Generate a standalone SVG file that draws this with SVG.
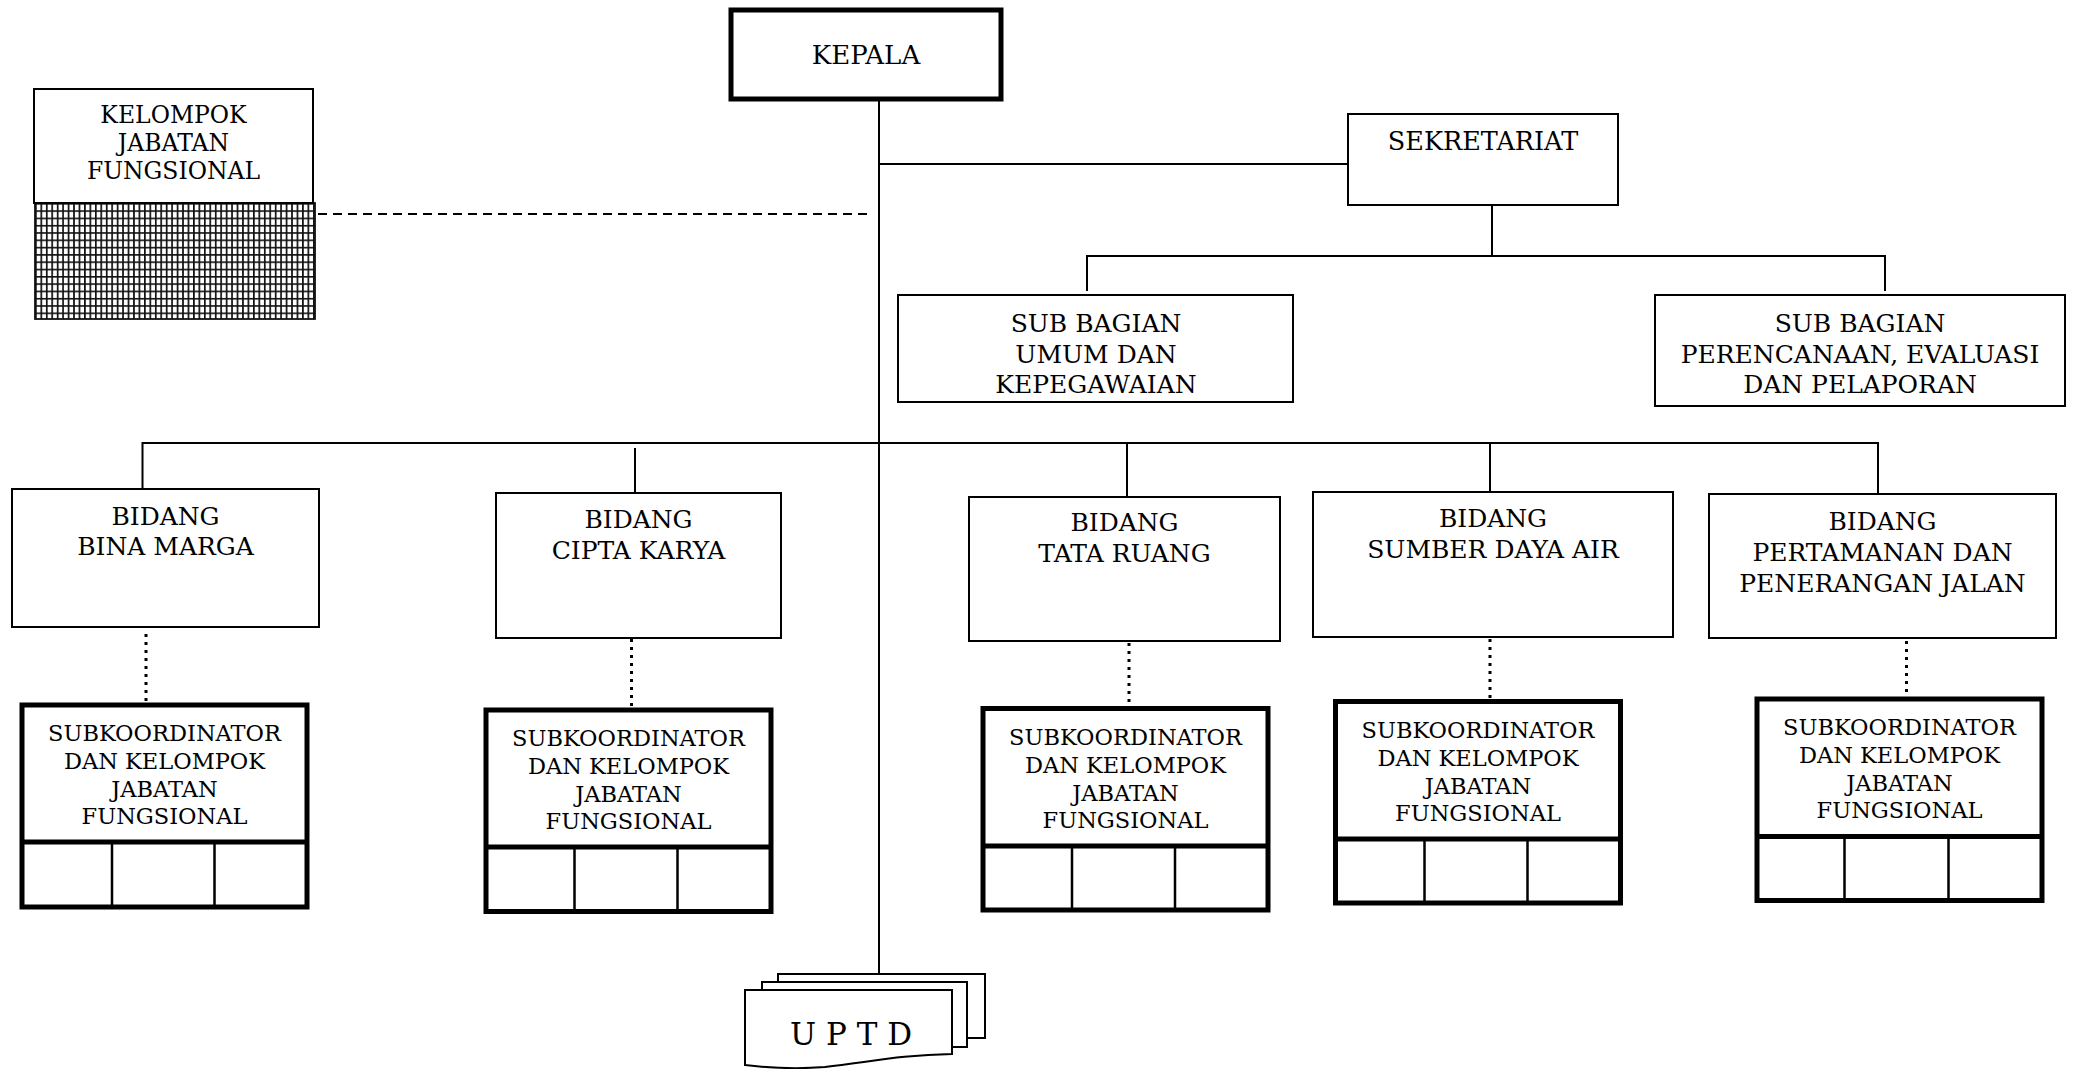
<svg xmlns="http://www.w3.org/2000/svg" width="2075" height="1069" viewBox="0 0 2075 1069">
  <defs>
    <style>
      .box { fill: #fff; stroke: #000; stroke-width: 2; }
      .heavy { fill: #fff; stroke: #000; stroke-width: 5; }
      .ln { fill: none; stroke: #000; stroke-width: 2; }
      .hv { fill: none; stroke: #000; stroke-width: 5; }
      .cell { fill: none; stroke: #000; stroke-width: 2.5; }
      .dash { fill: none; stroke: #000; stroke-width: 2; stroke-dasharray: 9 6; }
      .dots { fill: none; stroke: #000; stroke-width: 3; stroke-dasharray: 3 5; }
      text { font-family: "DejaVu Serif", "Liberation Serif", serif; text-anchor: middle; fill: #000; }
      .t-head { font-size: 26px; }
      .t-main { font-size: 25.5px; }
      .t-bid { font-size: 25px; }
      .t-sub { font-size: 22.5px; }
      .t-jf { font-size: 23.5px; }
      .t-uptd { font-size: 31px; }
    </style>
    <pattern id="mesh" patternUnits="userSpaceOnUse" x="35" y="203" width="5.45" height="7.3">
      <rect width="5.45" height="7.3" fill="#fff"/>
      <path d="M0.8,0 V7.3 M0,0.8 H5.45" stroke="#111" stroke-width="1.8" fill="none"/>
    </pattern>
  </defs>

  <rect width="2075" height="1069" fill="#fff"/>

  <!-- connectors -->
  <g id="connectors">
    <!-- trunk from KEPALA down to UPTD -->
    <path class="ln" d="M879,101 V974"/>
    <!-- KEPALA to SEKRETARIAT -->
    <path class="ln" d="M879,164 H1349"/>
    <!-- SEKRETARIAT to sub bagian -->
    <path class="ln" d="M1492,206 V256 M1087,256 H1885 M1087,255 V291 M1885,255 V291"/>
    <!-- bidang bus -->
    <path class="ln" d="M142,443 H1878"/>
    <path class="ln" d="M142.5,442 V489 M635,448 V493 M1127,443 V497 M1490,443 V492 M1878,442 V494"/>
    <!-- functional group link -->
    <path class="dash" d="M318,214 H869"/>
    <!-- bidang to subkoordinator (dotted) -->
    <path class="dots" d="M146,634 V703 M631.5,639 V708 M1129,643 V706 M1490,639 V699 M1906.5,641 V697"/>
  </g>

  <!-- KEPALA -->
  <g id="kepala">
    <rect class="heavy" x="731" y="10" width="270" height="89"/>
    <text class="t-head" x="866" y="64">KEPALA</text>
  </g>

  <!-- Kelompok Jabatan Fungsional -->
  <g id="kelompok-jf">
    <rect x="35" y="203" width="280" height="116" fill="url(#mesh)" stroke="#111" stroke-width="1.8"/>
    <rect class="box" x="34" y="89" width="279" height="114"/>
    <text class="t-jf" x="173.5" y="123">KELOMPOK</text>
    <text class="t-jf" x="173.5" y="151">JABATAN</text>
    <text class="t-jf" x="173.5" y="179">FUNGSIONAL</text>
  </g>

  <!-- SEKRETARIAT -->
  <g id="sekretariat">
    <rect class="box" x="1348" y="114" width="270" height="91"/>
    <text class="t-main" x="1483" y="150">SEKRETARIAT</text>
  </g>

  <g id="subbag-umum">
    <rect class="box" x="898" y="295" width="395" height="107"/>
    <text class="t-bid" x="1096" y="332">SUB BAGIAN</text>
    <text class="t-bid" x="1096" y="363">UMUM DAN</text>
    <text class="t-bid" x="1096" y="393">KEPEGAWAIAN</text>
  </g>

  <g id="subbag-perencanaan">
    <rect class="box" x="1655" y="295" width="410" height="111"/>
    <text class="t-bid" x="1860" y="332">SUB BAGIAN</text>
    <text class="t-bid" x="1860" y="363">PERENCANAAN, EVALUASI</text>
    <text class="t-bid" x="1860" y="393">DAN PELAPORAN</text>
  </g>

  <!-- Bidang -->
  <g id="bidang-bina-marga">
    <rect class="box" x="12" y="489" width="307" height="138"/>
    <text class="t-bid" x="165.5" y="525">BIDANG</text>
    <text class="t-bid" x="165.5" y="555">BINA MARGA</text>
  </g>
  <g id="bidang-cipta-karya">
    <rect class="box" x="496" y="493" width="285" height="145"/>
    <text class="t-bid" x="638.5" y="528">BIDANG</text>
    <text class="t-bid" x="638.5" y="559">CIPTA KARYA</text>
  </g>
  <g id="bidang-tata-ruang">
    <rect class="box" x="969" y="497" width="311" height="144"/>
    <text class="t-bid" x="1124.5" y="531">BIDANG</text>
    <text class="t-bid" x="1124.5" y="562">TATA RUANG</text>
  </g>
  <g id="bidang-sda">
    <rect class="box" x="1313" y="492" width="360" height="145"/>
    <text class="t-bid" x="1493" y="527">BIDANG</text>
    <text class="t-bid" x="1493" y="558">SUMBER DAYA AIR</text>
  </g>
  <g id="bidang-pertamanan">
    <rect class="box" x="1709" y="494" width="347" height="144"/>
    <text class="t-bid" x="1882.5" y="530">BIDANG</text>
    <text class="t-bid" x="1882.5" y="561">PERTAMANAN DAN</text>
    <text class="t-bid" x="1882.5" y="592">PENERANGAN JALAN</text>
  </g>

  <!-- Subkoordinator dan kelompok jabatan fungsional -->
  <g id="subkoord-1">
    <rect class="heavy" x="22" y="705" width="285" height="202"/>
    <path class="hv" d="M22,842 H307"/>
    <path class="cell" d="M112,842 V907 M214.5,842 V907"/>
    <text class="t-sub" x="164.5" y="741">SUBKOORDINATOR</text>
    <text class="t-sub" x="164.5" y="769">DAN KELOMPOK</text>
    <text class="t-sub" x="164.5" y="797">JABATAN</text>
    <text class="t-sub" x="164.5" y="824">FUNGSIONAL</text>
  </g>
  <g id="subkoord-2">
    <rect class="heavy" x="486" y="710" width="285" height="201.5"/>
    <path class="hv" d="M486,847 H771"/>
    <path class="cell" d="M574.5,847 V911.5 M677.5,847 V911.5"/>
    <text class="t-sub" x="628.5" y="746">SUBKOORDINATOR</text>
    <text class="t-sub" x="628.5" y="774">DAN KELOMPOK</text>
    <text class="t-sub" x="628.5" y="802">JABATAN</text>
    <text class="t-sub" x="628.5" y="829">FUNGSIONAL</text>
  </g>
  <g id="subkoord-3">
    <rect class="heavy" x="983" y="708.5" width="285" height="201.5"/>
    <path class="hv" d="M983,846 H1268"/>
    <path class="cell" d="M1072,846 V910 M1175,846 V910"/>
    <text class="t-sub" x="1125.5" y="744.5">SUBKOORDINATOR</text>
    <text class="t-sub" x="1125.5" y="772.5">DAN KELOMPOK</text>
    <text class="t-sub" x="1125.5" y="800.5">JABATAN</text>
    <text class="t-sub" x="1125.5" y="827.5">FUNGSIONAL</text>
  </g>
  <g id="subkoord-4">
    <rect class="heavy" x="1335.5" y="701.5" width="285" height="201.5"/>
    <path class="hv" d="M1335.5,839 H1620.5"/>
    <path class="cell" d="M1424.5,839 V903 M1527.5,839 V903"/>
    <text class="t-sub" x="1478" y="737.5">SUBKOORDINATOR</text>
    <text class="t-sub" x="1478" y="765.5">DAN KELOMPOK</text>
    <text class="t-sub" x="1478" y="793.5">JABATAN</text>
    <text class="t-sub" x="1478" y="820.5">FUNGSIONAL</text>
  </g>
  <g id="subkoord-5">
    <rect class="heavy" x="1757" y="699" width="285" height="201.5"/>
    <path class="hv" d="M1757,836.5 H2042"/>
    <path class="cell" d="M1844.5,836.5 V900.5 M1948.5,836.5 V900.5"/>
    <text class="t-sub" x="1899.5" y="735">SUBKOORDINATOR</text>
    <text class="t-sub" x="1899.5" y="763">DAN KELOMPOK</text>
    <text class="t-sub" x="1899.5" y="791">JABATAN</text>
    <text class="t-sub" x="1899.5" y="818">FUNGSIONAL</text>
  </g>

  <!-- UPTD: stacked document shape -->
  <g id="uptd">
    <rect class="box" x="778" y="974" width="207" height="64"/>
    <rect class="box" x="762" y="982" width="205" height="65"/>
    <path class="box" d="M745,990 H952 V1054 C900,1055 870,1062 825,1067 C800,1069 770,1068 745,1065 Z"/>
    <text class="t-uptd" x="851" y="1045">U P T D</text>
  </g>
</svg>
